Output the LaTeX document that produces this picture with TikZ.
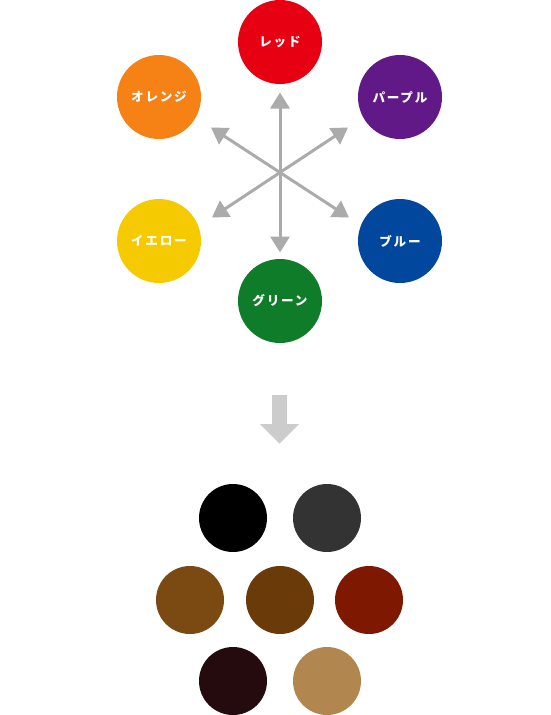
\documentclass[tikz,border=0pt]{standalone}
\usepackage{fontspec}
\newfontfamily\cjk{Noto Sans CJK JP}
\usetikzlibrary{arrows.meta}
\definecolor{cred}{HTML}{E60012}
\definecolor{corange}{HTML}{F68216}
\definecolor{cpurple}{HTML}{601986}
\definecolor{cyellow}{HTML}{F5CA00}
\definecolor{cblue}{HTML}{00479D}
\definecolor{cgreen}{HTML}{0E7C28}
\definecolor{arrgray}{HTML}{ABABAB}
\definecolor{biggray}{HTML}{CCCCCC}
\definecolor{mA}{HTML}{000000}
\definecolor{mB}{HTML}{333333}
\definecolor{mC}{HTML}{7A4A12}
\definecolor{mD}{HTML}{6A3A08}
\definecolor{mE}{HTML}{7E1800}
\definecolor{mF}{HTML}{250B0D}
\definecolor{mG}{HTML}{B1874F}
\tikzset{
  hue/.style={circle, minimum size=84pt, inner sep=0pt, text=white,
    font=\cjk\bfseries\fontsize{12.6}{12.6}\selectfont\addfontfeature{LetterSpace=14}},
  mix/.style={circle, minimum size=68pt, inner sep=0pt},
  dbl/.style={draw=arrgray, line width=3pt,
    {Triangle[width=19pt,length=16pt]}-{Triangle[width=19pt,length=16pt]}}
}
\begin{document}
\begin{tikzpicture}[x=1pt,y=-1pt]
\useasboundingbox (0,0) rectangle (550,715);
% colour wheel
\node[hue, fill=cred]    (red)    at (280,42)  {レッド};
\node[hue, fill=corange] (orange) at (159,97)  {オレンジ};
\node[hue, fill=cpurple] (purple) at (400,97)  {パープル};
\node[hue, fill=cyellow] (yellow) at (159,241) {イエロー};
\node[hue, fill=cblue]   (blue)   at (400,241) {ブルー};
\node[hue, fill=cgreen]  (green)  at (280,301) {グリーン};
% arrows
\coordinate (tU)  at (280,92.5);
\coordinate (tD)  at (280,252.5);
\coordinate (tUR) at (348,127.5);
\coordinate (tLL) at (212,217.5);
\coordinate (tUL) at (211,127.5);
\coordinate (tLR) at (349,217.5);
\draw[dbl] (tD) -- (tU);
\draw[dbl] (tLL) -- (tUR);
\draw[dbl] (tUL) -- (tLR);
% big down arrow
\fill[biggray] (272,395) -- (287,395) -- (287,424) -- (299,424) -- (279.5,443.5) -- (260,424) -- (272,424) -- cycle;
% mixtures
\node[mix, fill=mA] (m1) at (233,518) {};
\node[mix, fill=mB] (m2) at (327,518) {};
\node[mix, fill=mC] (m3) at (190,600) {};
\node[mix, fill=mD] (m4) at (280,600) {};
\node[mix, fill=mE] (m5) at (369,600) {};
\node[mix, fill=mF] (m6) at (233,681) {};
\node[mix, fill=mG] (m7) at (327,681) {};
\end{tikzpicture}
\end{document}
